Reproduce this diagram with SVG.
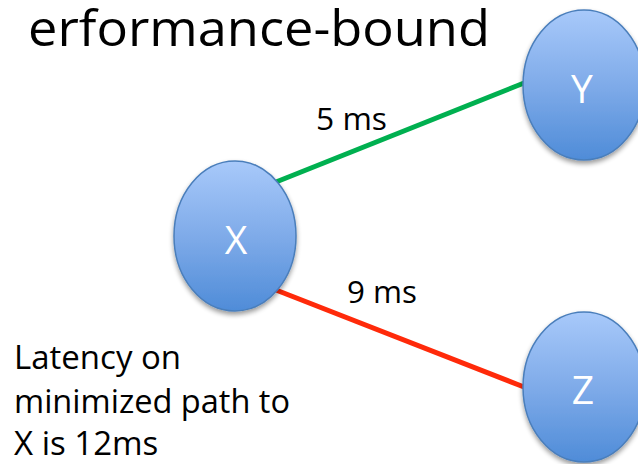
<svg xmlns="http://www.w3.org/2000/svg" width="638" height="464" viewBox="0 0 638 464">
<style>
.t{font-family:"Open Sans","Liberation Sans",sans-serif;fill:#000}
.nl{font-family:"Open Sans","Liberation Sans",sans-serif;fill:#fff;font-size:39px;text-anchor:middle}
.node{fill:url(#g);stroke:#4a7ebb;stroke-width:1.5;filter:url(#sh)}
</style>
<defs>
<linearGradient id="g" x1="0" y1="0" x2="0" y2="1">
<stop offset="0" stop-color="#a8c9fa"/>
<stop offset="0.5" stop-color="#7fabe9"/>
<stop offset="1" stop-color="#4f8cd8"/>
</linearGradient>
<filter id="sh" x="-20%" y="-20%" width="140%" height="140%">
<feGaussianBlur in="SourceAlpha" stdDeviation="2.5"/>
<feOffset dx="0" dy="3" result="b"/>
<feComponentTransfer><feFuncA type="linear" slope="0.4"/></feComponentTransfer>
<feMerge><feMergeNode/><feMergeNode in="SourceGraphic"/></feMerge>
</filter>
</defs>
<rect width="638" height="464" fill="#fff"/>
<text class="t" x="28" y="46" font-size="49" textLength="462" lengthAdjust="spacingAndGlyphs">erformance-bound</text>
<g id="connectors">
<line x1="276" y1="182" x2="524" y2="83" stroke="#00b050" stroke-width="5"/>
<line x1="276" y1="290" x2="524" y2="387" stroke="#ff2a0a" stroke-width="5"/>
<text class="t" x="316" y="130" font-size="31" textLength="71" lengthAdjust="spacingAndGlyphs">5 ms</text>
<text class="t" x="347" y="303" font-size="31" textLength="70" lengthAdjust="spacingAndGlyphs">9 ms</text>
</g>
<g id="X">
<ellipse class="node" cx="235" cy="236" rx="61" ry="75"/>
<text class="nl" x="236" y="254">X</text>
</g>
<g id="Y">
<ellipse class="node" cx="584" cy="85" rx="61" ry="75"/>
<text class="nl" x="582" y="103">Y</text>
</g>
<g id="Z">
<ellipse class="node" cx="584" cy="387" rx="61" ry="75"/>
<text class="nl" x="583" y="404">Z</text>
</g>
<g id="note">
<text class="t" x="14" y="369" font-size="33">Latency on</text>
<text class="t" x="14" y="413" font-size="33" textLength="276" lengthAdjust="spacingAndGlyphs">minimized path to</text>
<text class="t" x="14" y="455" font-size="33">X is 12ms</text>
</g>
</svg>
